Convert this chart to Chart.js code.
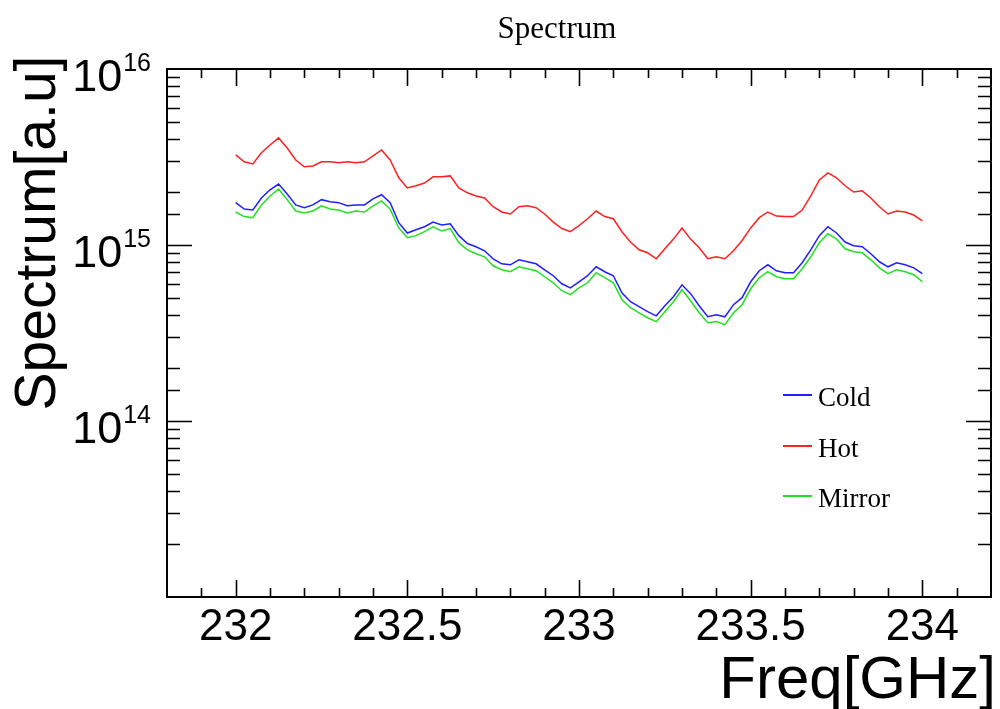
<!DOCTYPE html>
<html><head><meta charset="utf-8">
<script src="https://cdn.jsdelivr.net/npm/chart.js@4.4.1/dist/chart.umd.min.js"></script>
<style>html,body{margin:0;padding:0;background:#fff;}canvas{display:block;}</style>
</head><body>
<canvas id="c" width="1000" height="709"></canvas>
<script>
const freq = [
232.000,232.025,232.050,232.075,232.100,232.125,232.150,232.175,232.200,232.225,
232.250,232.275,232.300,232.325,232.350,232.375,232.400,232.425,232.450,232.475,
232.500,232.525,232.550,232.575,232.600,232.625,232.650,232.675,232.700,232.725,
232.750,232.775,232.800,232.825,232.850,232.875,232.900,232.925,232.950,232.975,
233.000,233.025,233.050,233.075,233.100,233.125,233.150,233.175,233.200,233.225,
233.250,233.275,233.300,233.325,233.350,233.375,233.400,233.425,233.450,233.475,
233.500,233.525,233.550,233.575,233.600,233.625,233.650,233.675,233.700,233.725,
233.750,233.775,233.800,233.825,233.850,233.875,233.900,233.925,233.950,233.975,
234.000];
const cold = [
1.74e15,1.60e15,1.58e15,1.85e15,2.06e15,2.22e15,1.95e15,1.69e15,1.63e15,1.69e15,
1.81e15,1.76e15,1.74e15,1.67e15,1.69e15,1.69e15,1.83e15,1.93e15,1.74e15,1.34e15,
1.17e15,1.22e15,1.27e15,1.35e15,1.30e15,1.32e15,1.13e15,1.02e15,9.77e14,9.27e14,
8.35e14,7.82e14,7.72e14,8.24e14,8.03e14,7.82e14,7.23e14,6.69e14,6.02e14,5.71e14,
6.18e14,6.69e14,7.52e14,7.05e14,6.69e14,5.35e14,4.76e14,4.46e14,4.18e14,3.96e14,
4.52e14,5.08e14,5.94e14,5.29e14,4.52e14,3.91e14,4.02e14,3.91e14,4.58e14,5.02e14,
6.18e14,7.14e14,7.72e14,7.14e14,6.96e14,6.96e14,7.93e14,9.39e14,1.13e15,1.27e15,
1.17e15,1.04e15,9.90e14,9.77e14,8.92e14,8.03e14,7.52e14,7.93e14,7.72e14,7.42e14,
6.87e14];
const hot = [
3.25e15,2.97e15,2.89e15,3.34e15,3.70e15,4.06e15,3.56e15,3.04e15,2.78e15,2.81e15,
2.97e15,2.97e15,2.93e15,2.97e15,2.93e15,2.97e15,3.21e15,3.47e15,3.04e15,2.41e15,
2.11e15,2.17e15,2.25e15,2.44e15,2.44e15,2.47e15,2.11e15,1.98e15,1.90e15,1.85e15,
1.65e15,1.54e15,1.50e15,1.65e15,1.67e15,1.63e15,1.50e15,1.35e15,1.24e15,1.19e15,
1.29e15,1.41e15,1.56e15,1.45e15,1.41e15,1.19e15,1.04e15,9.39e14,9.03e14,8.35e14,
9.52e14,1.08e15,1.25e15,1.08e15,9.64e14,8.35e14,8.57e14,8.35e14,9.27e14,1.06e15,
1.25e15,1.43e15,1.54e15,1.46e15,1.45e15,1.45e15,1.58e15,1.90e15,2.34e15,2.57e15,
2.41e15,2.17e15,2.00e15,2.03e15,1.85e15,1.65e15,1.50e15,1.56e15,1.54e15,1.48e15,
1.37e15];
const mirror = [
1.54e15,1.45e15,1.43e15,1.69e15,1.90e15,2.08e15,1.81e15,1.56e15,1.52e15,1.56e15,
1.67e15,1.60e15,1.58e15,1.52e15,1.56e15,1.54e15,1.67e15,1.78e15,1.60e15,1.25e15,
1.10e15,1.13e15,1.19e15,1.27e15,1.20e15,1.24e15,1.03e15,9.39e14,8.92e14,8.57e14,
7.62e14,7.23e14,7.05e14,7.52e14,7.33e14,7.14e14,6.60e14,6.10e14,5.50e14,5.22e14,
5.71e14,6.10e14,6.96e14,6.52e14,6.10e14,4.89e14,4.40e14,4.12e14,3.86e14,3.67e14,
4.18e14,4.76e14,5.57e14,4.82e14,4.12e14,3.62e14,3.67e14,3.53e14,4.12e14,4.58e14,
5.64e14,6.52e14,7.05e14,6.60e14,6.43e14,6.43e14,7.33e14,8.57e14,1.03e15,1.16e15,
1.08e15,9.52e14,9.15e14,9.03e14,8.24e14,7.42e14,6.87e14,7.23e14,7.05e14,6.78e14,
6.18e14];
const seriesNames = ['Cold','Hot','Mirror'];
const xTickValues = [231.8,231.9,232.0,232.1,232.2,232.3,232.4,232.5,232.6,232.7,232.8,232.9,
233.0,233.1,233.2,233.3,233.4,233.5,233.6,233.7,233.8,233.9,234.0,234.1,234.2];
const xTickLabels = ['232','232.5','233','233.5','234'];
const yLabelExponents = [14,15,16];
const chartTitle = 'Spectrum';
const xTitle = 'Freq[GHz]';
const yTitle = 'Spectrum[a.u]';

const toXY = arr => arr.map((v,i)=>({x:freq[i], y:v}));
const SANS = '"Liberation Sans", Arial, Helvetica, sans-serif';
const SERIF = '"Liberation Serif", "Times New Roman", serif';

const framePlugin = {
  id:'rootFrame',
  afterDraw(chart){
    const {ctx, chartArea:a, scales} = chart;
    const xs = scales.x, ys = scales.y;
    ctx.save();
    ctx.strokeStyle = '#000';
    ctx.lineWidth = 1.6;
    ctx.beginPath();
    xs.ticks.forEach(t=>{
      const px = Math.round(xs.getPixelForValue(t.value))+0.5;
      if (px < a.left+1 || px > a.right-1) return;
      const major = xTickLabels.includes(String(Math.round(t.value*10)/10));
      const len = major ? 17 : 9;
      ctx.moveTo(px, a.bottom); ctx.lineTo(px, a.bottom-len);
      ctx.moveTo(px, a.top); ctx.lineTo(px, a.top+len);
    });
    ys.ticks.forEach(t=>{
      const py = Math.round(ys.getPixelForValue(t.value))+0.5;
      if (py < a.top+1 || py > a.bottom-1) return;
      const lg = Math.log10(t.value);
      const major = Math.abs(lg-Math.round(lg))<1e-9;
      const len = major ? 25 : 13;
      ctx.moveTo(a.left, py); ctx.lineTo(a.left+len, py);
      ctx.moveTo(a.right, py); ctx.lineTo(a.right-len, py);
    });
    ctx.stroke();
    ctx.lineWidth = 2;
    ctx.strokeRect(a.left, a.top, a.right-a.left, a.bottom-a.top);
    ctx.fillStyle = '#000';
    yLabelExponents.forEach(e=>{
      const py = ys.getPixelForValue(Math.pow(10,e));
      ctx.font = '45px ' + SANS;
      ctx.textAlign = 'left'; ctx.textBaseline = 'alphabetic';
      const wb = ctx.measureText('10').width;
      ctx.font = '25px ' + SANS;
      const we = ctx.measureText(String(e)).width;
      const right = a.left - 16;
      const xe = right - we;
      const xb = xe - wb - 1;
      ctx.font = '45px ' + SANS;
      ctx.fillText('10', xb, py + 22);
      ctx.font = '25px ' + SANS;
      ctx.fillText(String(e), xe, py + 2);
    });
    ctx.font = '31px ' + SERIF;
    ctx.textAlign = 'center'; ctx.textBaseline = 'alphabetic';
    ctx.fillText(chartTitle, 557, 38);
    ctx.font = '60px ' + SANS;
    ctx.textAlign = 'right';
    ctx.fillText(xTitle, 996, 698);
    ctx.save();
    ctx.translate(55, 233);
    ctx.rotate(-Math.PI/2);
    ctx.font = '57px ' + SANS;
    ctx.textAlign = 'center';
    ctx.fillText(yTitle, 0, 0);
    ctx.restore();
    const legY = [395, 446, 496];
    chart.data.datasets.forEach((ds,i)=>{
      ctx.strokeStyle = ds.borderColor;
      ctx.lineWidth = 2;
      ctx.beginPath();
      ctx.moveTo(783, legY[i]); ctx.lineTo(812, legY[i]);
      ctx.stroke();
      ctx.fillStyle = '#000';
      ctx.font = '27px ' + SERIF;
      ctx.textAlign = 'left';
      ctx.fillText(ds.label, 818, legY[i] + 11);
    });
    ctx.restore();
  }
};

new Chart(document.getElementById('c'), {
  type:'line',
  data:{datasets:[
    {label:seriesNames[0], data:toXY(cold), borderColor:'#2020ff', borderWidth:1.5, pointRadius:0, tension:0, fill:false},
    {label:seriesNames[1], data:toXY(hot), borderColor:'#ff2020', borderWidth:1.5, pointRadius:0, tension:0, fill:false},
    {label:seriesNames[2], data:toXY(mirror), borderColor:'#20e020', borderWidth:1.5, pointRadius:0, tension:0, fill:false}
  ]},
  options:{
    responsive:false, animation:false, devicePixelRatio:1,
    layout:{padding:{top:69, right:1, left:0, bottom:0}},
    plugins:{legend:{display:false}, title:{display:false}, tooltip:{enabled:false}},
    scales:{
      x:{type:'linear', min:231.8, max:234.2,
        grid:{display:false, drawTicks:false}, border:{display:false},
        afterBuildTicks(s){ s.ticks = xTickValues.map(v=>({value:v})); },
        ticks:{autoSkip:false, maxRotation:0, minRotation:0, padding:9, color:'#000',
          font:{family:SANS, size:44, lineHeight:1},
          callback(v){ const s = String(Math.round(v*10)/10); return xTickLabels.includes(s) ? s : ''; }},
        afterFit(s){ s.height = 112; }
      },
      y:{type:'logarithmic', min:1e13, max:1e16,
        grid:{display:false, drawTicks:false}, border:{display:false},
        ticks:{display:false},
        afterFit(s){ s.width = 167; }
      }
    }
  },
  plugins:[framePlugin]
});
</script>
</body></html>
